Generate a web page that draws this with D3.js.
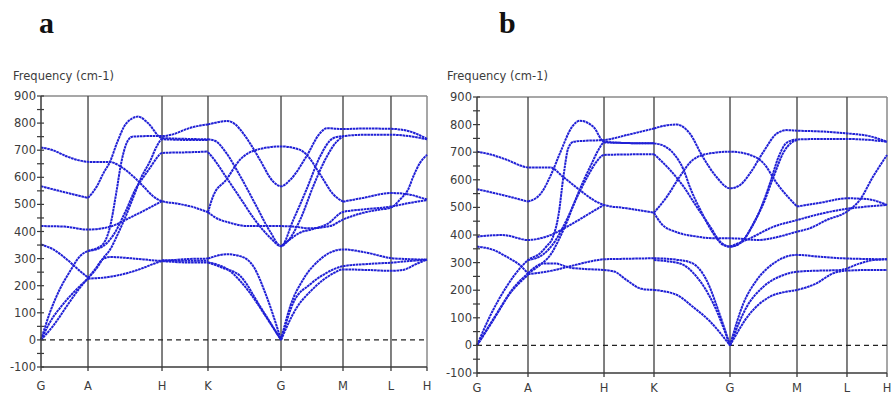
<!DOCTYPE html>
<html>
<head>
<meta charset="utf-8">
<script src="https://cdn.jsdelivr.net/npm/d3@7"></script>
<style>
  html, body { margin: 0; padding: 0; background: #fff; }
  svg { display: block; }
</style>
</head>
<body>
<svg id="chart" width="891" height="396"></svg>
<script>
// high-symmetry points along the path
const kLabels = ["G", "A", "H", "K", "G", "M", "L", "H"];
// cumulative path length of each point (normalised), one per panel
const kPathA = [0, 0.1218, 0.3135, 0.4326, 0.6218, 0.7824, 0.9067, 1];
const kPathB = [0, 0.1244, 0.3098, 0.4317, 0.6171, 0.7805, 0.9024, 1];
const yTicks = d3.range(-100, 901, 100);
const yMinor = d3.range(-100, 901, 50);

// bands: [segment coordinate (0 = G ... 7 = H), frequency cm-1]
const bandsA = [
  [[0,710],[0.25,700],[0.55,677],[0.8,663],[1,657],[1.3,656],[1.45,638],[1.6,606],[1.75,566],[1.88,530],[2,512],[2.33,503],[2.7,489],[3,471]],
  [[3,471],[3.07,530],[3.25,591],[3.44,665],[3.66,701],[4,714],[4.31,701],[4.41,684],[4.63,611],[4.84,538],[5,510]],
  [[5,510],[5.42,524],[6,542],[6.53,536],[6.8,526],[7,518]],
  [[3,471],[3.1,452],[3.3,432],[3.55,420],[3.8,420],[4,420],[4.2,418],[4.45,412],[4.79,420],[5,444],[5.42,469],[5.77,481],[6,488],[6.25,518],[6.48,556],[6.62,603],[6.8,652],[7,683]],
  [[4,346],[4.15,372],[4.3,395],[4.5,408],[4.75,428],[5,472],[5.4,481],[6,492],[6.5,505],[7,516]],
  [[0,0],[0.19,101],[0.4,187],[0.62,254],[0.83,309],[1,328],[1.12,338],[1.22,360],[1.3,420],[1.38,540],[1.45,655],[1.52,725],[1.6,750],[1.8,752],[2,752],[2.3,762],[2.53,778],[2.8,790],[3,795]],
  [[3,795],[3.13,803],[3.26,808],[3.37,796],[3.48,763],[3.6,715],[3.71,665],[3.89,585],[4,567],[4.15,591],[4.41,677],[4.63,763],[4.74,781],[5,778],[5.4,780],[6,779],[6.5,770],[7,742]],
  [[0,567],[0.5,545],[1,524]],
  [[1,524],[1.12,567],[1.21,616],[1.3,659],[1.39,726],[1.52,800],[1.68,824],[1.81,800],[2,745],[2.5,742],[3,740]],
  [[3,740],[3.1,734],[3.25,690],[3.45,600],[3.65,500],[3.85,400],[4,346],[4.2,444],[4.41,554],[4.63,677],[4.84,744],[5,752],[5.5,757],[6,757],[6.5,752],[7,740]],
  [[3,693],[3.1,660],[3.25,600],[3.45,520],[3.65,440],[3.85,378],[4,346],[4.09,360],[4.31,444],[4.52,567],[4.74,677],[4.9,732],[5,750]],
  [[1,228],[1.12,266],[1.21,303],[1.3,334],[1.39,383],[1.5,450],[1.61,525],[1.72,600],[1.84,660],[1.93,715],[2,740],[2.5,738],[3,738]],
  [[1,328],[1.2,345],[1.35,390],[1.5,470],[1.65,560],[1.76,605],[1.85,640],[1.92,668],[2,690],[2.5,692],[3,695]],
  [[0,420],[0.5,418],[1,407],[1.3,418],[1.61,457],[1.85,490],[2,512]],
  [[0,352],[0.26,334],[0.55,297],[0.83,254],[1,230]],
  [[0,0],[0.26,52],[0.55,125],[0.83,193],[1,228]],
  [[0,0],[0.19,65],[0.47,132],[0.76,187],[1,226]],
  [[1,228],[1.1,262],[1.2,298],[1.3,306],[1.5,303],[1.75,297],[2,292],[2.5,298],[3,300]],
  [[1,226],[1.3,233],[1.55,248],[1.75,266],[1.9,282],[2,290],[2.5,286],[3,286]],
  [[2,294],[2.5,292],[3,292]],
  [[3,300],[3.26,316],[3.44,309],[3.62,272],[3.8,162],[4,0]],
  [[3,286],[3.2,266],[3.44,236],[3.71,125],[4,0]],
  [[3,286],[3.3,254],[3.57,175],[3.8,83],[4,0]],
  [[4,0],[4.15,125],[4.36,224],[4.63,297],[5,334],[5.49,322],[6,302],[6.5,298],[7,296]],
  [[4,0],[4.2,138],[4.47,205],[4.74,248],[5,272],[5.5,280],[6,285],[6.5,291],[7,296]],
  [[4,0],[4.25,118],[4.47,178],[4.84,245],[5,260],[5.5,258],[6,255],[6.33,258],[6.7,280],[7,296]]
];

const bandsB = [
  [[0,702],[0.3,690],[0.59,672],[0.85,652],[1,645],[1.29,645],[1.46,611],[1.68,563],[1.86,527],[2,509],[2.45,497],[3,481]],
  [[3,481],[3.17,539],[3.34,612],[3.51,672],[3.74,696],[4,702],[4.3,690],[4.5,660],[4.7,587],[5,503]],
  [[5,503],[5.5,518],[6,533],[6.5,530],[7,509]],
  [[3,481],[3.1,440],[3.3,410],[3.55,395],[3.8,388],[4,388],[4.43,382],[4.66,390],[5,412],[5.25,424],[5.6,455],[6,485],[6.32,527],[6.65,611],[7,690]],
  [[4,358],[4.3,388],[4.65,430],[5,454],[5.5,478],[6,495],[6.5,503],[7,509]],
  [[0,0],[0.25,104],[0.58,213],[0.84,279],[1,309],[1.16,334],[1.24,358],[1.33,394],[1.4,470],[1.47,620],[1.53,715],[1.6,738],[1.8,742],[2,744],[2.45,762],[3,786]],
  [[3,786],[3.21,799],[3.3,800],[3.47,768],[3.64,684],[3.82,611],[4,569],[4.15,581],[4.3,624],[4.5,702],[4.7,768],[4.85,780],[5,778],[5.5,775],[6,768],[6.5,760],[7,738]],
  [[0,566],[0.5,545],[1,521]],
  [[1,521],[1.17,551],[1.31,623],[1.42,696],[1.58,792],[1.68,814],[1.86,792],[2,738],[2.5,733],[3,732]],
  [[3,732],[3.15,720],[3.3,680],[3.39,636],[3.47,575],[3.61,491],[3.78,406],[3.91,364],[4,358],[4.15,370],[4.3,418],[4.45,491],[4.6,590],[4.72,680],[4.85,735],[5,746],[5.5,748],[6,748],[6.5,745],[7,738]],
  [[3,693],[3.21,636],[3.39,575],[3.56,503],[3.74,430],[3.87,376],[4,358],[4.2,382],[4.35,442],[4.5,515],[4.65,611],[4.8,700],[4.92,735],[5,744]],
  [[1,261],[1.15,290],[1.3,330],[1.4,380],[1.5,440],[1.6,510],[1.72,590],[1.84,660],[1.93,710],[2,735],[2.5,733],[3,732]],
  [[1,309],[1.2,330],[1.35,375],[1.5,450],[1.65,540],[1.78,610],[1.9,665],[2,690],[2.5,692],[3,693]],
  [[0,394],[0.5,400],[1,382],[1.24,394],[1.59,442],[1.85,485],[2,509]],
  [[0,358],[0.32,346],[0.58,321],[0.84,291],[1,261]],
  [[0,0],[0.32,92],[0.65,189],[1,255]],
  [[0,0],[0.39,116],[0.71,207],[1,261]],
  [[1,261],[1.1,285],[1.2,297],[1.35,297],[1.55,282],[1.8,276],[2,273],[2.2,268],[2.45,237],[2.75,205],[3,201]],
  [[1,258],[1.3,270],[1.6,290],[1.85,306],[2,312],[2.5,314],[3,316]],
  [[3,201],[3.2,192],[3.3,183],[3.51,140],[3.74,86],[4,0]],
  [[3,316],[3.34,309],[3.51,297],[3.69,237],[3.86,116],[4,0]],
  [[3,309],[3.34,297],[3.56,249],[3.78,152],[4,0]],
  [[4,0],[4.2,152],[4.4,237],[4.65,297],[5,328],[5.4,322],[5.85,316],[6.5,313],[7,312]],
  [[4,0],[4.25,140],[4.5,213],[4.8,255],[5,267],[5.46,271],[5.86,273],[6.32,297],[6.65,309],[7,312]],
  [[4,0],[4.3,116],[4.6,177],[4.85,195],[5,201],[5.39,225],[5.72,261],[6,271],[6.5,273],[7,273]]
];

const svg = d3.select("#chart");
const font = "'DejaVu Sans', Verdana, sans-serif";

function drawPanel(cfg) {
  const g = svg.append("g");
  const { left, right, top, bottom } = cfg;

  const seg = d3.scaleLinear().domain(d3.range(kLabels.length)).range(cfg.path);
  const xPath = d3.scaleLinear().domain([0, 1]).range([left, right]);
  const x = u => xPath(seg(u));
  const y = d3.scaleLinear().domain([-100, 900]).range([bottom, top]);

  // frame: top and right borders
  g.append("line")
    .attr("x1", left).attr("x2", right).attr("y1", top).attr("y2", top)
    .attr("stroke", "#8a8a8a").attr("stroke-width", 1.5);
  g.append("line")
    .attr("x1", right).attr("x2", right).attr("y1", top).attr("y2", bottom)
    .attr("stroke", "#8a8a8a").attr("stroke-width", 1.5);

  // vertical lines at the high-symmetry points
  g.append("g")
    .selectAll("line")
    .data(d3.range(1, kLabels.length - 1))
    .enter()
    .append("line")
    .attr("x1", d => x(d)).attr("x2", d => x(d))
    .attr("y1", top).attr("y2", bottom)
    .attr("stroke", "#4a4a4a").attr("stroke-width", 1.4);

  // zero line
  g.append("line")
    .attr("x1", left).attr("x2", right)
    .attr("y1", y(0)).attr("y2", y(0))
    .attr("stroke", "#222").attr("stroke-width", 1.2)
    .attr("stroke-dasharray", "5,4");

  // bands
  const line = d3.line()
    .x(d => x(d[0]))
    .y(d => y(d[1]))
    .curve(d3.curveMonotoneX);

  g.append("g")
    .attr("fill", "none")
    .attr("stroke", "#2020d6")
    .attr("stroke-width", 2)
    .attr("stroke-dasharray", "2.6,0.6")
    .attr("stroke-linecap", "butt")
    .selectAll("path")
    .data(cfg.bands)
    .enter()
    .append("path")
    .attr("d", line);

  // left axis with minor ticks every 50
  const axis = g.append("g").attr("stroke", "#3a3a3a");
  axis.append("line")
    .attr("x1", left).attr("x2", left).attr("y1", top).attr("y2", bottom)
    .attr("stroke-width", 1.5);
  axis.selectAll(".yt")
    .data(yMinor)
    .enter()
    .append("line")
    .attr("x1", left - 4).attr("x2", left + 3)
    .attr("y1", d => y(d)).attr("y2", d => y(d))
    .attr("stroke-width", 1.2);

  // bottom axis
  axis.append("line")
    .attr("x1", left).attr("x2", right).attr("y1", bottom).attr("y2", bottom)
    .attr("stroke-width", 1.5);
  axis.selectAll(".xt")
    .data(d3.range(kLabels.length))
    .enter()
    .append("line")
    .attr("x1", d => x(d)).attr("x2", d => x(d))
    .attr("y1", bottom).attr("y2", bottom + 4)
    .attr("stroke-width", 1.3);

  g.append("g")
    .selectAll("text")
    .data(yTicks)
    .enter()
    .append("text")
    .attr("x", left - 5)
    .attr("y", d => y(d) + 4)
    .attr("text-anchor", "end")
    .attr("fill", "#3c3c3c")
    .style("font-family", font)
    .style("font-size", "11.5px")
    .text(d => d);

  g.append("g")
    .selectAll("text")
    .data(kLabels)
    .enter()
    .append("text")
    .attr("x", (d, i) => x(i))
    .attr("y", cfg.labelY)
    .attr("text-anchor", "middle")
    .attr("fill", "#3c3c3c")
    .style("font-family", font)
    .style("font-size", "11.5px")
    .text(d => d);

  g.append("text")
    .attr("x", cfg.axisTitleX)
    .attr("y", 80)
    .attr("fill", "#3c3c3c")
    .style("font-family", font)
    .style("font-size", "11.5px")
    .text("Frequency (cm-1)");

  g.append("text")
    .attr("x", cfg.titleX)
    .attr("y", 33)
    .attr("fill", "#111")
    .style("font-family", "'Liberation Serif', 'Times New Roman', serif")
    .style("font-weight", "bold")
    .style("font-size", "30px")
    .text(cfg.title);
}

drawPanel({ left: 41, right: 427, top: 96, bottom: 367, path: kPathA, bands: bandsA,
  labelY: 390, axisTitleX: 13, title: "a", titleX: 39 });
drawPanel({ left: 477, right: 887, top: 97, bottom: 373, path: kPathB, bands: bandsB,
  labelY: 392, axisTitleX: 447, title: "b", titleX: 499 });
</script>
</body>
</html>
